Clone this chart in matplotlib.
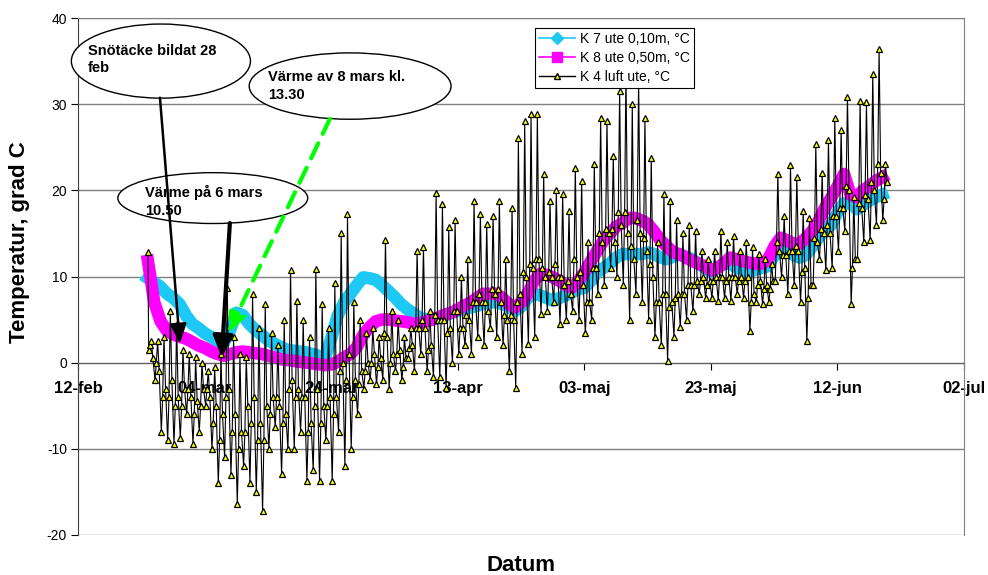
import numpy as np
import matplotlib.pyplot as plt
from matplotlib.patches import Ellipse
from matplotlib.lines import Line2D

plt.rcParams['font.family'] = ['Liberation Sans', 'DejaVu Sans']
plt.rcParams['axes.unicode_minus'] = False

# x axis: days counted from 12-feb
tick_days = [0, 20, 40, 60, 80, 100, 120, 140]
tick_labels = ['12-feb', '04-mar', '24-mar', '13-apr', '03-maj', '23-maj', '12-jun', '02-jul']

first_day = 11          # logging starts 23 feb
air_start = 12.8        # first reading of the air sensor

# K 4 luft ute, day 11 .. 127: night low, morning, afternoon high, evening
air_lo = [1.5, -2, -8, -9, -9.4, -8.7, -6, -9.4, -8, -5,
          -10, -14, -11, -13, -16.4, -12, -14, -15, -17.2, -10,
          -7.5, -12.9, -10, -10, -8, -13.7, -12.5, -13.7, -9, -13.7,
          -8, -12, -10, -6, -3, -2, -2.5, -2, -3, -1,
          -2, 0.5, -1, 1, -1, -1.7, -1.7, -2.9, 0, 1,
          2, 1, 3, 2, 4, 3, 2, -1, -2.9, 1,
          2.2, 3, 5.7, 6, 7, 4.5, 5, 6, 5, 3.4,
          5, 8, 9, 11, 10, 9, 4.9, 8, 7, 5,
          3, 2, 0.2, 3, 4.1, 5, 6, 8, 7.5, 7.5,
          7.2, 7.5, 7.2, 8, 7.5, 3.7, 7, 6.8, 7, 9.5,
          10, 8, 9, 7, 2.5, 9, 12, 10.7, 11, 13,
          15.3, 6.8, 12, 14, 14.2, 16, 16.5]
air_am = [2, 0, -4, -4, -5, -5, -3, -6, -5, -3,
          -7, -9, -4, -8, -10, -8, -7, -9, -9, -6,
          -4, -7, -3, -4, -4, -8, -5, -7, -5, -6,
          -1, -2, -4, -2.5, -1, 0, -0.5, 3.5, 0, 1,
          -0.5, 1.7, 4, 5, 1.5, 5.5, 5, 3.5, 6, 4,
          5.5, 7, 8, 7, 8.5, 8.5, 5.5, 5.5, 7, 10.5,
          11.5, 12, 11, 10.5, 11.5, 10, 9.5, 12, 10.5, 7,
          11, 15, 15.5, 15.5, 17.5, 17.5, 13.5, 16.5, 14.5, 11.5,
          7, 8, 6.5, 7.5, 8, 9, 9, 9.5, 9, 9.5,
          10, 9.5, 10, 9.5, 9.5, 7, 9, 8.5, 8.5, 14,
          12.5, 13, 13.5, 10.5, 7.5, 14.5, 15.5, 16, 17, 18,
          20.5, 11, 18.5, 19.5, 21, 23, 19]
air_hi = [2.5, 2.5, 3, 6, 4.5, 1.5, 1, 0.6, 0, -1,
          -0.5, 1, 8.7, 3, 1, 0.6, 8, 4, 6.8, 3.4,
          2, 5, 10.7, 7.2, 5, 3, 10.9, 6.8, 4, 9.2,
          15, 17.3, 7, 5, 3.4, 4, 3, 14.2, 6, 4.9,
          3, 4, 13, 13.4, 6, 19.7, 18.4, 15.7, 16.5, 10,
          12, 18.8, 17.3, 16.1, 17, 18.8, 12, 18, 26.1, 28,
          28.9, 28.9, 21.9, 18.8, 20, 19.6, 17.6, 22.6, 21.1, 14,
          23, 28.4, 28.1, 24, 31.5, 34, 30, 33, 28.4, 23.8,
          14, 19.6, 18.8, 16.5, 15, 16, 15.3, 13, 12, 13,
          15.3, 14, 14.7, 13, 14, 13.4, 12.6, 12, 11.5, 21.9,
          17, 22.9, 21.5, 17.6, 16.8, 25.4, 22, 25.8, 28.4, 27,
          30.8, 19.2, 30.4, 30.2, 33.5, 36.4, 23]
air_pm = [0.5, -1, -3, -2, -4, -3, -4, -4.5, -3, -4,
          -5, -6, -3, -6, -8, -5, -4, -7, -5, -4,
          -5, -6, -2, -3, -4, -7, -3, -5, -4, -4,
          0, 1, -2, -1, 0, 1, 0.5, 3, 1, 1.5,
          0.5, 2, 4, 4, 2, 5, 5, 4, 6, 4,
          5, 7, 7, 6, 8, 7, 5, 5, 8, 10,
          11, 12, 10, 10, 10, 9, 8, 10, 9, 7,
          11, 14, 15, 14, 16, 15, 12, 15, 13, 10,
          7, 8, 7, 8, 8, 9, 9.5, 10, 9.5, 10,
          10, 10, 10, 10, 10, 8, 9.5, 9, 9.5, 13,
          12.5, 13, 13, 11, 9, 14, 15, 15, 17, 18,
          20, 12, 18, 19, 20, 22, 21]

# K 7 ute 0,10m: daily values, day 11 .. 127
k7 = [9.8, 9.3, 8.8, 8.0, 7.5, 6.8, 5.5, 4.5, 4.0, 3.4,
      3.0, 2.5, 2.3, 3.8, 5.8, 5.5, 4.5, 3.8, 3.2, 2.6,
      2.2, 1.8, 1.5, 1.4, 1.3, 1.2, 1.0, 0.8, 0.6, 2.9,
      5.5, 7.0, 8.0, 9.0, 9.9, 9.8, 9.6, 9.0, 8.3, 7.6,
      6.8, 6.2, 5.7, 5.2, 5.0, 5.0, 5.2, 5.5, 5.8, 6.0,
      6.2, 6.4, 6.6, 6.8, 7.0, 7.0, 6.8, 6.5, 6.0, 6.5,
      7.5, 8.0, 7.8, 7.5, 7.2, 7.5, 7.8, 8.2, 8.5, 8.7,
      9.5, 10.5, 11.0, 11.5, 12.2, 12.6, 12.6, 12.6, 12.6, 12.8,
      12.6, 12.2, 12.0, 12.3, 12.6, 12.3, 12.0, 11.5, 11.0, 10.5,
      11.0, 11.5, 11.5, 11.0, 10.8, 10.5, 10.8, 11.0, 11.2, 12.5,
      13.0, 13.2, 12.5, 12.2, 12.5, 13.5, 14.5, 15.5, 16.0, 17.5,
      18.5, 18.5, 17.8, 18.3, 18.8, 19.2, 19.5]

# K 8 ute 0,50m: daily values, day 11 .. 127
k8 = [11.8, 7.0, 4.8, 3.7, 3.3, 3.0, 2.8, 2.4, 2.0, 1.7,
      1.3, 1.0, 0.8, 1.0, 1.2, 1.3, 1.2, 1.1, 1.0, 0.8,
      0.6, 0.4, 0.3, 0.2, 0.1, 0.0, -0.1, -0.2, -0.3, -0.2,
      0.1, 0.6, 1.0, 1.8, 3.2, 4.1, 4.8, 5.0, 5.0, 4.9,
      4.8, 4.7, 4.5, 4.6, 4.8, 5.0, 5.3, 5.6, 5.8, 6.2,
      6.6, 7.0, 7.5, 8.0, 8.0, 8.0, 7.5, 6.8, 6.4, 7.0,
      8.0, 9.5, 10.3, 10.2, 9.9, 9.5, 9.0, 8.7, 9.5, 10.5,
      11.8, 13.0, 14.2, 15.0, 15.8, 16.2, 16.8, 16.8, 16.5, 16.1,
      15.2, 14.2, 13.5, 12.8, 12.6, 12.2, 11.8, 11.5, 11.2, 10.7,
      11.0, 11.5, 12.2, 12.0, 11.8, 11.6, 11.5, 11.5, 12.0, 13.5,
      14.5, 14.2, 13.8, 13.8, 14.5, 15.3, 16.5, 18.0, 19.2, 20.5,
      21.9, 19.5, 19.2, 20.0, 20.5, 21.1, 21.5]

days = np.arange(first_day, first_day + len(air_lo))
hours = np.array([4, 9, 14, 20]) / 24
air_t = np.concatenate([[first_day + 0.05], (days[:, None] + hours).ravel()])
air_v = np.concatenate([[air_start],
                        np.column_stack([air_lo, air_am, air_hi, air_pm]).ravel()])
soil_t = days + 0.05

fig = plt.figure(figsize=(9.88, 5.75), dpi=100)
ax = fig.add_axes([78 / 988, 40 / 575, 886 / 988, 517 / 575])

cyan = '#1EC8F5'
magenta = '#FF00FF'
ax.plot(soil_t, k7, color=cyan, lw=9, solid_joinstyle='round', zorder=2)
ax.plot(soil_t, k8, color=magenta, lw=9, solid_joinstyle='round', zorder=2.1)
ax.plot(air_t, air_v, color='black', lw=0.8, marker='^', ms=5,
        mfc='#FFFF00', mec='black', mew=0.9, zorder=3)

# axis crosses at 0, as in the spreadsheet; set before the ticks (it resets them)
ax.spines['bottom'].set_position(('data', 0))
ax.spines['bottom'].set_color('#606060')
for s in ['top', 'right']:
  ax.spines[s].set_color('#808080')
ax.spines['left'].set_color('#404040')

ax.set_xlim(0, 140)
ax.set_ylim(-20, 40)
ax.set_xticks(tick_days)
ax.set_xticklabels(tick_labels, fontweight='bold', fontsize=12)
ax.set_yticks(range(-20, 41, 10))
ax.tick_params(axis='y', direction='out', length=5, labelsize=10, pad=3)
ax.tick_params(axis='x', direction='out', length=5, pad=8)
ax.yaxis.grid(True, color='#808080', lw=1)

ax.set_ylabel('Temperatur, grad C', fontsize=16, fontweight='bold')
ax.yaxis.set_label_coords(-0.054, 0.566)
ax.set_xlabel('Datum', fontsize=16, fontweight='bold')
ax.xaxis.set_label_coords(0.5, -0.038)

# callouts
bubbles = [
  ((13.1, 35.0), 28.3, 8.6, 1.6, 35.2, 'Snötäcke bildat 28\nfeb'),
  ((43.0, 32.1), 31.9, 7.7, 30.0, 32.1, 'Värme av 8 mars kl.\n13.30'),
  ((21.3, 19.1), 30.0, 5.9, 10.6, 18.7, 'Värme på 6 mars\n10.50'),
]
for center, w, h, tx, ty, txt in bubbles:
  ax.add_patch(Ellipse(center, w, h, facecolor='white', edgecolor='black',
                       lw=1, zorder=5, clip_on=False))
  ax.text(tx, ty, txt, fontsize=10.5, fontweight='bold', ha='left', va='center',
          linespacing=1.3, zorder=6)

ax.annotate('', xy=(16.1, 2.2), xytext=(12.95, 30.75), zorder=7,
            arrowprops=dict(arrowstyle='-|>,head_length=1.2,head_width=0.5',
                            color='black', lw=1.8, shrinkA=0, shrinkB=0))
ax.annotate('', xy=(22.7, 0.6), xytext=(24.0, 16.2), zorder=7,
            arrowprops=dict(arrowstyle='-|>,head_length=1.3,head_width=0.6',
                            color='black', lw=3, shrinkA=0, shrinkB=0))
ax.annotate('', xy=(23.7, 3.4), xytext=(39.8, 28.3), zorder=7,
            arrowprops=dict(arrowstyle='-|>,head_length=1.2,head_width=0.5',
                            color='#00FF00', lw=3, ls=(0, (4, 2.5)),
                            shrinkA=0, shrinkB=0))

handles = [
  Line2D([], [], color=cyan, lw=1.2, marker='D', ms=6, mfc=cyan, mec=cyan),
  Line2D([], [], color=magenta, lw=1.2, marker='s', ms=7, mfc=magenta, mec=magenta),
  Line2D([], [], color='black', lw=1, marker='^', ms=5, mfc='#FFFF00', mec='black'),
]
labels = ['K 7 ute 0,10m, °C', 'K 8 ute 0,50m, °C', 'K 4 luft ute, °C']
leg = ax.legend(handles, labels, loc='upper left', bbox_to_anchor=(0.516, 0.981),
                fontsize=10, fancybox=False, framealpha=1, edgecolor='black',
                handlelength=2.6, handletextpad=0.3, borderpad=0.3,
                labelspacing=0.35, borderaxespad=0)
leg.get_frame().set_linewidth(0.8)
leg.set_zorder(8)

fig.savefig('out.png', dpi=100)
